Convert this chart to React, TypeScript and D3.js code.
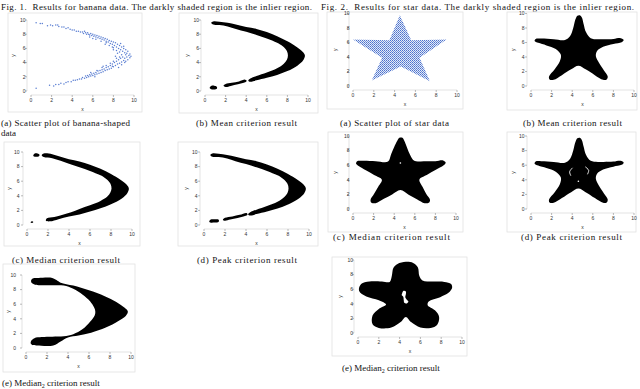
// Two figure strips: banana data (Fig. 1) and star data (Fig. 2), each with a
// scatter panel and several black "inlier region" panels. All shapes are kept
// in data units (0..10) and pushed through per-panel d3 linear scales.
import * as d3 from "d3";

type Pt = [number, number];

const TICKS = [0, 2, 4, 6, 8, 10];

const bananaUpper: Pt[] = [
  [0.5, 9.6], [0.9, 9.5], [1.1, 9.5], [1.6, 9.2], [1.9, 9.3], [2.1, 9.2], [2.4, 9.3], [2.6, 9.3],
  [2.7, 9.1], [3.0, 9.0], [3.2, 9.0], [3.4, 8.8], [3.6, 8.9], [3.8, 8.7], [4.0, 8.6], [4.2, 8.6],
  [4.4, 8.4], [4.6, 8.4], [4.8, 8.3], [5.0, 8.3], [5.1, 8.1], [5.2, 8.4], [5.3, 8.2], [5.4, 8.0],
  [5.5, 8.2], [5.6, 8.0], [5.7, 7.9], [5.8, 8.1], [5.9, 7.8], [6.0, 8.0], [6.1, 7.7], [6.2, 7.9],
  [6.3, 7.6], [6.4, 7.8], [6.5, 7.5], [6.6, 7.7], [6.7, 7.4], [6.8, 7.6], [6.9, 7.3], [7.0, 7.5],
  [7.1, 7.2], [7.2, 7.4], [7.3, 7.0], [7.4, 7.3], [7.5, 6.9], [7.6, 7.1], [7.7, 6.7], [7.8, 7.0],
  [7.9, 6.6], [8.0, 6.9], [8.1, 6.4], [8.2, 6.8], [8.3, 6.2], [8.4, 6.6], [8.5, 6.0], [8.6, 6.4],
  [8.7, 5.8], [8.8, 6.2], [8.9, 5.6], [9.0, 6.0], [9.1, 5.4], [9.2, 5.8], [9.3, 5.3], [9.4, 5.6],
  [9.6, 5.2], [9.5, 5.0], [9.7, 4.9], [5.7, 7.6], [6.3, 7.3], [6.8, 7.0], [7.2, 6.6], [7.6, 6.4],
  [8.0, 6.1], [8.3, 5.7], [8.6, 5.5], [8.0, 5.8], [8.4, 5.3], [8.8, 5.1], [9.2, 5.1], [8.7, 6.7],
  [9.0, 6.3], [7.9, 6.2], [6.0, 7.4], [7.3, 6.8],
];
const bananaLower: Pt[] = [
  [0.5, 0.4], [1.8, 0.8], [2.2, 0.7], [2.4, 0.9], [2.7, 0.9], [2.9, 1.1], [3.2, 1.0], [3.4, 1.2],
  [3.6, 1.3], [3.9, 1.3], [4.1, 1.5], [4.3, 1.5], [4.5, 1.6], [4.7, 1.7], [4.9, 1.7], [5.0, 1.9],
  [5.2, 1.8], [5.3, 2.1], [5.4, 1.9], [5.5, 2.2], [5.6, 2.0], [5.7, 2.3], [5.8, 2.1], [5.9, 2.4],
  [6.0, 2.2], [6.1, 2.5], [6.2, 2.3], [6.3, 2.6], [6.4, 2.4], [6.5, 2.8], [6.6, 2.5], [6.7, 2.9],
  [6.8, 2.6], [6.9, 3.0], [7.0, 2.7], [7.1, 3.1], [7.2, 2.9], [7.3, 3.3], [7.4, 3.0], [7.5, 3.4],
  [7.6, 3.1], [7.7, 3.6], [7.8, 3.2], [7.9, 3.8], [8.0, 3.4], [8.1, 4.0], [8.2, 3.6], [8.3, 4.2],
  [8.4, 3.8], [8.5, 4.4], [8.6, 3.9], [8.7, 4.6], [8.8, 4.1], [8.9, 4.8], [9.0, 4.3], [9.1, 4.6],
  [9.2, 4.2], [9.3, 4.8], [9.4, 4.4], [9.6, 4.7], [5.8, 2.6], [6.4, 2.9], [6.9, 3.3], [7.3, 3.6],
  [7.7, 3.9], [8.0, 4.2], [8.3, 4.6], [8.6, 4.8], [8.2, 4.9], [7.9, 3.5], [8.8, 3.7], [9.1, 4.0],
  [6.2, 2.0], [7.0, 3.5], [8.5, 3.3],
];

// ---- banana inlier regions ----
const bananaMainArm: Pt[] = [
  [0.6, 9.6], [0.8, 9.8], [1.4, 9.75], [2.2, 9.6], [3.0, 9.35], [4.0, 9.0], [5.0, 8.75], [6.0, 8.3],
  [7.0, 7.7], [8.0, 7.0], [8.9, 6.2], [9.5, 5.5], [9.7, 5.0], [9.55, 4.35], [9.0, 3.6], [8.0, 2.8],
  [7.0, 2.25], [6.0, 1.85], [5.0, 1.5], [4.4, 1.3], [4.2, 1.45], [4.4, 1.75], [5.0, 2.1], [6.0, 2.6],
  [7.0, 3.2], [7.65, 3.85], [7.95, 4.4], [8.05, 5.0], [7.95, 5.65], [7.55, 6.3], [7.0, 6.8], [6.0, 7.4],
  [5.0, 7.9], [4.0, 8.35], [3.0, 8.75], [2.2, 9.1], [1.4, 9.3], [0.8, 9.35],
];
const meanBlobLow: Pt[] = [[0.45, 0.45], [0.6, 0.72], [0.9, 0.75], [1.15, 0.6], [1.15, 0.32], [0.9, 0.22], [0.6, 0.25]];
const meanBandLow: Pt[] = [
  [1.8, 0.75], [2.0, 1.0], [2.6, 1.15], [3.3, 1.35], [3.9, 1.6], [4.05, 1.45], [3.9, 1.22], [3.2, 0.95], [2.5, 0.72], [2.0, 0.58],
];
const bananaMean: Pt[][] = [meanBlobLow, meanBandLow, bananaMainArm];

const bananaMedian: Pt[][] = [
  [[0.6, 9.45], [0.7, 9.75], [1.0, 9.8], [1.2, 9.6], [1.1, 9.4], [0.8, 9.35]],
  [[0.35, 0.35], [0.45, 0.5], [0.6, 0.42], [0.5, 0.28]],
  [
    [1.4, 9.55], [1.6, 9.8], [2.4, 9.7], [3.2, 9.35], [4.0, 9.0], [5.0, 8.7], [6.0, 8.25], [7.0, 7.7],
    [8.0, 7.0], [8.9, 6.2], [9.5, 5.5], [9.7, 5.0], [9.55, 4.35], [9.0, 3.6], [8.0, 2.85], [7.0, 2.3],
    [6.0, 1.85], [5.0, 1.45], [4.0, 1.15], [3.0, 0.8], [2.2, 0.5], [1.8, 0.58], [1.9, 0.92], [2.6, 1.1],
    [3.4, 1.4], [4.2, 1.75], [5.0, 2.2], [6.0, 2.7], [7.0, 3.3], [7.65, 3.9], [7.95, 4.5], [8.05, 5.0],
    [7.95, 5.65], [7.55, 6.3], [7.0, 6.8], [6.0, 7.4], [5.0, 7.9], [4.0, 8.4], [3.2, 8.8], [2.4, 9.15], [1.6, 9.3],
  ],
];

const bananaPeak: Pt[][] = [
  [[0.5, 0.45], [0.6, 0.72], [1.0, 0.78], [1.4, 0.72], [1.4, 0.45], [1.0, 0.33], [0.6, 0.33]],
  [[1.8, 0.7], [2.0, 0.98], [2.7, 1.18], [3.4, 1.4], [4.05, 1.65], [4.15, 1.45], [3.9, 1.22], [3.2, 0.95], [2.5, 0.75], [2.0, 0.58]],
  bananaMainArm,
];

const bananaMedian2: Pt[][] = [
  [
    [0.5, 9.3], [0.7, 9.55], [1.2, 9.6], [2.5, 9.6], [2.9, 9.3], [3.3, 8.95], [4.5, 8.55], [6.0, 7.9],
    [7.5, 7.1], [8.6, 6.3], [9.4, 5.5], [9.7, 5.0], [9.5, 4.4], [8.8, 3.7], [7.6, 2.8], [6.2, 2.1],
    [5.0, 1.7], [4.0, 1.45], [3.3, 0.9], [2.6, 0.35], [1.0, 0.35], [0.6, 0.4], [0.45, 0.6], [0.5, 1.0],
    [0.8, 1.35], [1.5, 1.5], [2.5, 1.55], [3.6, 1.6], [4.5, 1.9], [5.4, 2.6], [6.1, 3.6], [6.55, 4.5],
    [6.6, 5.0], [6.5, 5.5], [6.1, 6.4], [5.4, 7.3], [4.5, 8.1], [3.6, 8.55], [2.5, 8.6], [1.2, 8.6],
    [0.8, 8.7], [0.5, 9.0],
  ],
];

// ---- star data ----
const starOutline: Pt[] = [
  [4.5, 9.75], [5.6, 6.3], [9.0, 6.4], [6.4, 3.9], [7.4, 0.65], [4.6, 2.7], [1.8, 0.75], [2.8, 3.9], [0.0, 6.4], [3.5, 6.3],
];

const starMean: Pt[] = [
  [4.35, 9.3], [4.5, 9.7], [4.75, 9.75], [4.95, 9.4], [5.1, 8.6], [5.35, 7.4], [5.8, 6.6], [6.8, 6.45],
  [8.0, 6.5], [8.7, 6.6], [9.0, 6.35], [8.8, 6.05], [8.0, 5.8], [7.0, 5.4], [6.4, 4.8], [6.3, 4.1],
  [6.6, 3.2], [7.1, 2.1], [7.45, 1.3], [7.35, 0.9], [7.0, 0.85], [6.2, 1.5], [5.3, 2.3], [4.6, 2.8],
  [3.9, 2.3], [3.0, 1.5], [2.2, 0.85], [1.8, 0.9], [1.75, 1.3], [2.3, 2.3], [2.8, 3.4], [2.9, 4.3],
  [2.4, 5.1], [1.5, 5.6], [0.7, 5.95], [0.35, 6.2], [0.45, 6.5], [1.0, 6.55], [2.2, 6.45], [3.3, 6.35],
  [3.8, 6.9], [4.1, 8.0], [4.25, 8.9],
];
const starMedian: Pt[] = [
  [4.3, 9.35], [4.5, 9.75], [4.8, 9.75], [4.98, 9.35], [5.25, 8.4], [5.55, 7.4], [5.95, 6.6], [6.9, 6.55],
  [8.0, 6.55], [8.75, 6.65], [9.0, 6.35], [8.8, 6.0], [8.0, 5.35], [7.2, 4.7], [6.45, 4.05],
  [6.75, 3.05], [7.1, 2.1], [7.48, 1.25], [7.35, 0.85], [6.95, 0.8], [6.2, 1.35], [5.4, 1.95], [4.6, 2.6],
  [3.8, 2.0], [3.0, 1.4], [2.2, 0.8], [1.8, 0.85], [1.7, 1.25], [2.05, 2.1], [2.45, 3.05], [2.8, 4.0],
  [2.05, 4.65], [1.25, 5.3], [0.55, 5.9], [0.3, 6.2], [0.4, 6.55], [1.0, 6.6], [2.2, 6.55], [3.4, 6.5],
  [3.7, 7.5], [4.0, 8.5],
];
const starMedian2: Pt[] = [
  [3.8, 9.45], [4.6, 9.75], [5.3, 9.6], [5.75, 9.0], [5.9, 7.8], [6.2, 7.2], [7.2, 7.05], [8.3, 7.0],
  [8.95, 6.7], [9.05, 6.2], [8.7, 5.5], [7.9, 4.9], [6.8, 4.3], [6.7, 3.8], [7.4, 3.1], [7.8, 2.2],
  [7.6, 1.1], [7.0, 0.7], [6.0, 0.75], [5.1, 1.5], [4.6, 2.2], [4.1, 1.5], [3.2, 0.75], [2.0, 0.7],
  [1.4, 1.2], [1.4, 2.4], [2.0, 3.3], [2.7, 3.9], [2.0, 4.5], [0.8, 5.0], [0.1, 5.8], [0.3, 6.7],
  [1.1, 7.05], [2.3, 7.05], [3.05, 7.0], [3.25, 7.8], [3.4, 8.9],
];
const starMedian2Hole: Pt[] = [
  [4.25, 5.45], [4.35, 5.75], [4.6, 5.7], [4.6, 5.3], [4.55, 4.9], [4.7, 4.55], [4.85, 4.3], [4.7, 4.05],
  [4.45, 4.15], [4.4, 4.5], [4.35, 4.95], [4.2, 5.2],
];
const starPeakArcs: Pt[][] = [
  [[4.0, 5.6], [3.75, 5.1], [3.85, 4.6]],
  [[5.3, 5.75], [5.6, 5.3], [5.5, 4.8]],
];
const starPeakDots: Pt[] = [[4.6, 3.8]];
const starMedianDots: Pt[] = [[4.6, 6.3]];

// ---- layout (pixels) ----
type Box = {
  x0: number; x1: number; y0: number; y1: number; yl: number;
  frame: [number, number, number, number];
};
const L: Record<string, Box> = {
  b1: { x0: 31, x1: 134, y0: 91, y1: 20, yl: 25.5, frame: [8, 13, 142, 112] },
  b2: { x0: 205, x1: 308, y0: 91, y1: 20, yl: 199, frame: [179, 13, 318, 113] },
  b3: { x0: 27, x1: 132, y0: 225, y1: 152, yl: 19.5, frame: [4, 142, 140, 246] },
  b4: { x0: 204, x1: 309, y0: 225, y1: 152, yl: 197.5, frame: [178, 142, 318, 246] },
  b5: { x0: 26, x1: 131, y0: 348, y1: 275, yl: 16, frame: [3, 264, 135, 372] },
  s1: { x0: 353, x1: 457, y0: 86, y1: 13.5, yl: 349.5, frame: [327, 12, 463, 109] },
  s2: { x0: 531, x1: 634, y0: 86, y1: 13.5, yl: 524.5, frame: [507, 12, 637, 110] },
  s3: { x0: 353, x1: 456, y0: 209, y1: 136, yl: 349.5, frame: [328, 132, 463, 232] },
  s4: { x0: 531, x1: 634, y0: 209, y1: 136, yl: 524.5, frame: [507, 132, 636, 232] },
  s5: { x0: 358, x1: 462, y0: 333, y1: 260, yl: 353, frame: [332, 257, 467, 356] },
};

const SERIF = "'Liberation Serif', 'Times New Roman', serif";
const SANS = "'Liberation Sans', Arial, sans-serif";
const BLUE = "#5b7fd2";

function scales(b: Box) {
  const x = d3.scaleLinear().domain([0, 10]).range([b.x0, b.x1]);
  const y = d3.scaleLinear().domain([0, 10]).range([b.y0, b.y1]);
  return { x, y };
}

function Axes({ b }: { b: Box }) {
  const { x, y } = scales(b);
  const ax = b.x0 - 4;
  const ay = b.y0 + 4;
  return (
    <g>
      <rect
        x={b.frame[0]} y={b.frame[1]}
        width={b.frame[2] - b.frame[0]} height={b.frame[3] - b.frame[1]}
        fill="none" stroke="#e2e2e2" strokeWidth={0.8}
      />
      <line x1={ax} x2={ax} y1={y(0)} y2={y(10)} stroke="#c4c4c4" strokeWidth={0.5} />
      <line x1={x(0)} x2={x(10)} y1={ay} y2={ay} stroke="#c4c4c4" strokeWidth={0.5} />
      {TICKS.map((t) => (
        <g key={t}>
          <line x1={ax - 2} x2={ax} y1={y(t)} y2={y(t)} stroke="#777" strokeWidth={0.5} />
          <text x={b.yl} y={y(t) + 1.7} textAnchor="end" fontSize={5} fontFamily={SANS} fill="#333">{t}</text>
          <line x1={x(t)} x2={x(t)} y1={ay} y2={ay + 2} stroke="#777" strokeWidth={0.5} />
          <text x={x(t)} y={b.y0 + 11} textAnchor="middle" fontSize={5} fontFamily={SANS} fill="#333">{t}</text>
        </g>
      ))}
      <text x={(x(0) + x(10)) / 2} y={b.y0 + 20} textAnchor="middle" fontSize={5} fontFamily={SANS} fill="#333">x</text>
      <text
        transform={`translate(${b.x0 - 16},${(b.y0 + b.y1) / 2}) rotate(-90)`}
        textAnchor="middle" fontSize={5} fontFamily={SANS} fill="#333"
      >y</text>
    </g>
  );
}

function Region({ b, shapes, curve = d3.curveCatmullRomClosed }: { b: Box; shapes: Pt[][]; curve?: d3.CurveFactory }) {
  const { x, y } = scales(b);
  const line = d3.line<Pt>().x((d) => x(d[0])).y((d) => y(d[1])).curve(curve);
  return (
    <g>
      {shapes.map((s, i) => (
        <path key={i} d={line(s) ?? ""} fill="#000" />
      ))}
    </g>
  );
}

function Holes({ b, arcs = [], dots = [], polys = [] }: { b: Box; arcs?: Pt[][]; dots?: Pt[]; polys?: Pt[][] }) {
  const { x, y } = scales(b);
  const open = d3.line<Pt>().x((d) => x(d[0])).y((d) => y(d[1])).curve(d3.curveCatmullRom);
  const closed = d3.line<Pt>().x((d) => x(d[0])).y((d) => y(d[1])).curve(d3.curveCatmullRomClosed);
  return (
    <g>
      {arcs.map((a, i) => (
        <path key={"a" + i} d={open(a) ?? ""} fill="none" stroke="#fff" strokeWidth={0.9} strokeLinecap="round" />
      ))}
      {polys.map((p, i) => (
        <path key={"p" + i} d={closed(p) ?? ""} fill="#fff" />
      ))}
      {dots.map((d, i) => (
        <circle key={"d" + i} cx={x(d[0])} cy={y(d[1])} r={0.8} fill="#fff" />
      ))}
    </g>
  );
}

function Caption({ x, y, w, label, sub, rest }: { x: number; y: number; w?: number; label: string; sub?: string; rest?: string }) {
  return (
    <text x={x} y={y} fontSize={9} fontFamily={SERIF} fill="#111" textLength={w} lengthAdjust="spacing">
      {label}
      {sub && <tspan fontSize={6} dy={2}>{sub}</tspan>}
      {rest && <tspan dy={sub ? -2 : 0}>{rest}</tspan>}
    </text>
  );
}

export default function App() {
  const s1 = scales(L.s1);
  const b1 = scales(L.b1);
  const starLine = d3.line<Pt>().x((d) => s1.x(d[0])).y((d) => s1.y(d[1])).curve(d3.curveLinearClosed);
  return (
    <svg width={640} height={389} style={{ position: "absolute", left: 0, top: 0, background: "#fff" }}>
      <defs>
        {/* pixel checkerboard of blue points, a stand-in for the dense star sample */}
        <pattern id="stardots" width={2} height={2} patternUnits="userSpaceOnUse">
          <rect width={2} height={2} fill="#e4eaf8" />
          <rect x={0} y={0} width={1} height={1} fill="#4d72cc" />
          <rect x={1} y={1} width={1} height={1} fill="#6f8fd8" />
        </pattern>
      </defs>

      <text x={1} y={9.5} fontSize={9} fontFamily={SERIF} fill="#111" textLength={311} lengthAdjust="spacing">
        Fig. 1.{"\u00a0\u00a0"}Results for banana data. The darkly shaded region is the inlier region.
      </text>
      <text x={321} y={9.5} fontSize={9} fontFamily={SERIF} fill="#111" textLength={313} lengthAdjust="spacing">
        Fig. 2.{"\u00a0\u00a0"}Results for star data. The darkly shaded region is the inlier region.
      </text>

      {/* Fig. 1 */}
      <Axes b={L.b1} />
      <g>
        {[...bananaUpper, ...bananaLower].map((d, i) => (
          <circle key={i} cx={b1.x(d[0])} cy={b1.y(d[1])} r={0.75} fill={BLUE} />
        ))}
      </g>
      <Caption x={1} y={126} w={129} label="(a) Scatter plot of banana-shaped" />
      <Caption x={1} y={136} label="data" />

      <Axes b={L.b2} />
      <Region b={L.b2} shapes={bananaMean} />
      <Caption x={196} y={126} w={101} label="(b) Mean criterion result" />

      <Axes b={L.b3} />
      <Region b={L.b3} shapes={bananaMedian} />
      <Caption x={12} y={263} w={108} label="(c) Median criterion result" />

      <Axes b={L.b4} />
      <Region b={L.b4} shapes={bananaPeak} />
      <Caption x={197} y={263} w={100} label="(d) Peak criterion result" />

      <Axes b={L.b5} />
      <Region b={L.b5} shapes={bananaMedian2} />
      <Caption x={2} y={386} label="(e) Median" sub="2" rest=" criterion result" />

      {/* Fig. 2 */}
      <Axes b={L.s1} />
      <path d={starLine(starOutline) ?? ""} fill="url(#stardots)" />
      <Caption x={340} y={126} w={109} label="(a) Scatter plot of star data" />

      <Axes b={L.s2} />
      <Region b={L.s2} shapes={[starMean]} />
      <Caption x={523} y={126} w={99} label="(b) Mean criterion result" />

      <Axes b={L.s3} />
      <Region b={L.s3} shapes={[starMedian]} />
      <Holes b={L.s3} dots={starMedianDots} />
      <Caption x={333} y={240} w={117} label="(c) Median criterion result" />

      <Axes b={L.s4} />
      <Region b={L.s4} shapes={[starMean]} />
      <Holes b={L.s4} arcs={starPeakArcs} dots={starPeakDots} />
      <Caption x={521} y={240} w={101} label="(d) Peak criterion result" />

      <Axes b={L.s5} />
      <Region b={L.s5} shapes={[starMedian2]} />
      <Holes b={L.s5} polys={[starMedian2Hole]} />
      <Caption x={342} y={371} label="(e) Median" sub="2" rest=" criterion result" />
    </svg>
  );
}
